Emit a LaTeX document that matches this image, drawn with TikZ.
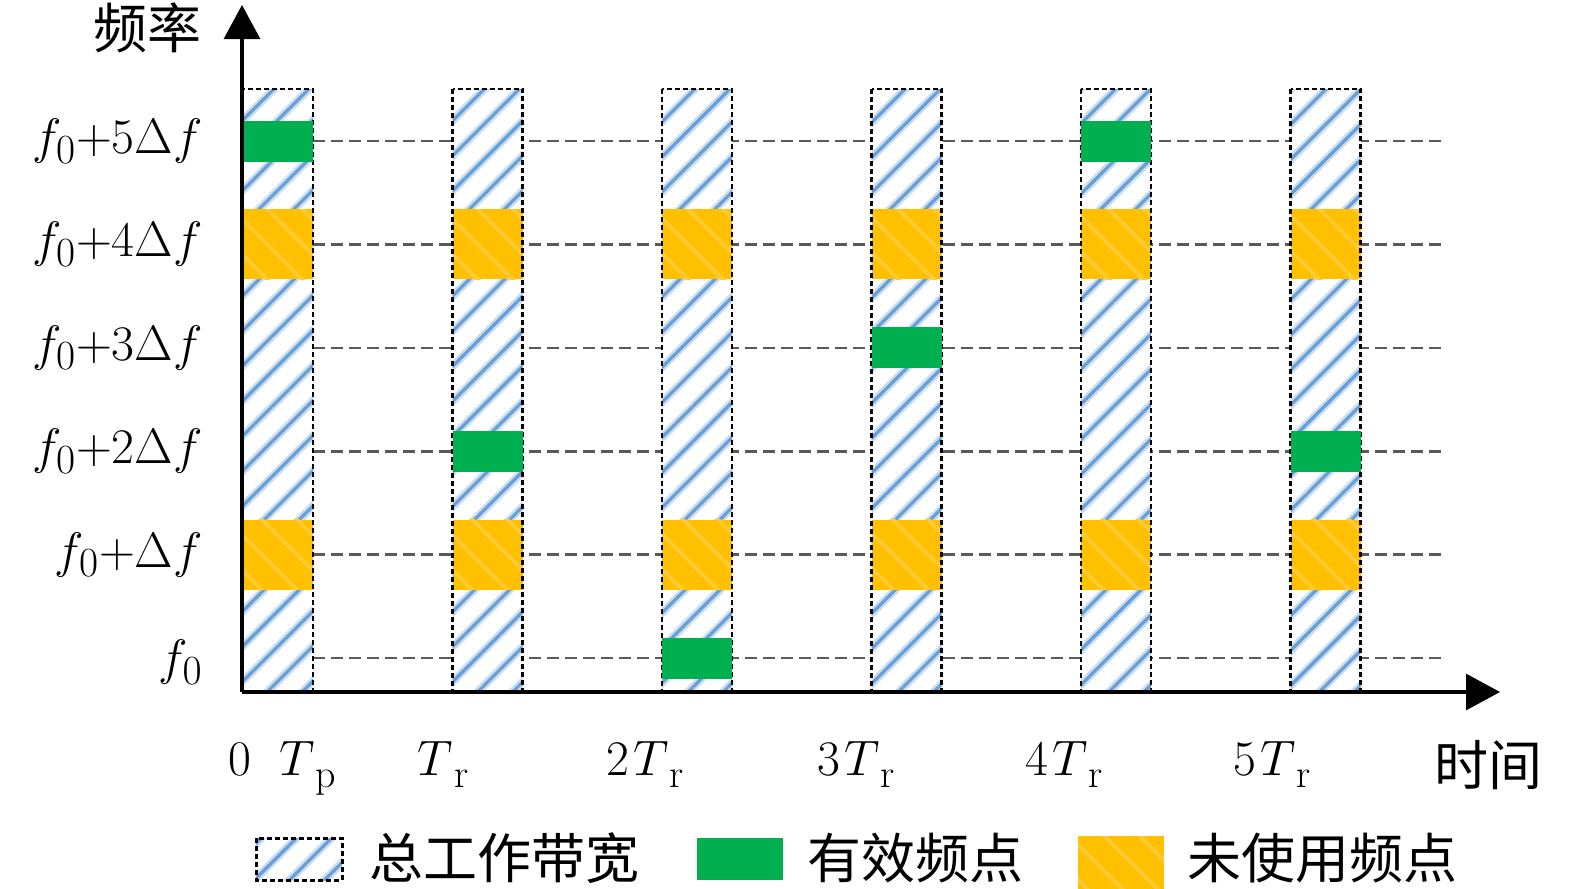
\documentclass[tikz,border=0pt]{standalone}
\usepackage{fontspec}
\newfontfamily\cjk{Noto Sans CJK SC}
\usetikzlibrary{patterns.meta,arrows.meta}
\definecolor{hatchlight}{HTML}{C9DEF2}
\definecolor{hatchdark}{HTML}{6A9FD6}
\definecolor{effgreen}{HTML}{00B050}
\definecolor{unused}{HTML}{FFC000}
\definecolor{unusedlight}{HTML}{FFCB33}
\definecolor{gridgray}{HTML}{5A5A5A}
\newcommand\Tsub[1]{$T$\kern0.5pt\raisebox{-6pt}{\fontsize{20}{22}\selectfont #1}}
\tikzset{
  hatchbg/.style={fill=white},
  hatchA/.style={pattern={Lines[angle=45,distance=12.4pt,line width=4pt]},pattern color=hatchlight},
  hatchB/.style={pattern={Lines[angle=45,distance=12.4pt,line width=1.6pt]},pattern color=hatchdark},
  hatchborder/.style={draw=black,line width=1.3pt,dash pattern=on 2.5pt off 1.5pt},
  greenbox/.style={fill=effgreen},
  orangebox/.style={fill=unused},
  orangehatch/.style={pattern={Lines[angle=-45,distance=12.4pt,line width=2pt]},pattern color=unusedlight},
  gridline/.style={draw=gridgray,line width=1.3pt,dash pattern=on 6pt off 3pt},
  axis/.style={draw=black,line width=1.6pt,-{Triangle[length=17pt,width=18pt]}},
  ylab/.style={anchor=east,inner sep=0pt,font=\fontsize{29}{32}\selectfont},
  xlab/.style={anchor=base,inner sep=0pt,font=\fontsize{29}{34}\selectfont},
  cjklab/.style={inner sep=0pt,font=\cjk\fontsize{27}{30}\selectfont},
}
\begin{document}
\begin{tikzpicture}[x=0.5pt,y=-0.5pt]
\useasboundingbox (0,0) rectangle (1575,889);
% grid lines
\foreach \k/\yy in {0/658,1/554.6,2/451.2,3/347.8,4/244.4,5/141}{
  \draw[gridline] (313,\yy) -- (1442,\yy);
}
% columns
\foreach \i in {0,...,5}{
  \pgfmathsetmacro{\xl}{243+209.5*\i}
  \pgfmathsetmacro{\xr}{\xl+70}
  \fill[hatchbg] (\xl,89) rectangle (\xr,692);
  \fill[hatchA] (\xl,89) rectangle (\xr,692);
  \fill[hatchB] (\xl,89) rectangle (\xr,692);
  % unused rows 1 and 4
  \foreach \yy in {554.6,244.4}{
    \fill[orangebox] (\xl,\yy-35) rectangle (\xr,\yy+35);
    \fill[orangehatch] (\xl,\yy-35) rectangle (\xr,\yy+35);
  }
  \draw[hatchborder] (\xl,89) rectangle (\xr,692);
}
% effective points
\foreach \i/\yy in {0/141,1/451.2,2/658,3/347.8,4/141,5/451.2}{
  \pgfmathsetmacro{\xl}{243+209.5*\i}
  \fill[greenbox] (\xl,\yy-20.5) rectangle (\xl+70,\yy+20.5);
}
% axes
\coordinate (O) at (242,692);
\coordinate (ytip) at (242,5);
\coordinate (xtip) at (1500,692);
\draw[axis] (O) -- (ytip);
\draw[axis] (O) -- (xtip);
% y labels
\node[ylab] (l5) at (203,141) {$f_0{+}5\Delta f$};
\node[ylab] (l4) at (203,244.4) {$f_0{+}4\Delta f$};
\node[ylab] (l3) at (203,347.8) {$f_0{+}3\Delta f$};
\node[ylab] (l2) at (203,451.2) {$f_0{+}2\Delta f$};
\node[ylab] (l1) at (203,554.6) {$f_0{+}\Delta f$};
\node[ylab] (l0) at (203,662) {$f_0$};
% x labels
\node[xlab] (t0) at (240,775) {$0$};
\node[xlab] (tp) at (308,775) {\Tsub{p}};
\node[xlab] (t1) at (443,775) {\Tsub{r}};
\node[xlab] (t2) at (645,775) {$2$\kern2pt\Tsub{r}};
\node[xlab] (t3) at (856,775) {$3$\kern2pt\Tsub{r}};
\node[xlab] (t4) at (1064,775) {$4$\kern2pt\Tsub{r}};
\node[xlab] (t5) at (1272,775) {$5$\kern2pt\Tsub{r}};
\node[cjklab] (xname) at (1488,765) {时间};
\node[cjklab] (yname) at (147,28) {频率};
% legend
\fill[hatchbg] (256,838) rectangle (342,880);
\fill[hatchA] (256,838) rectangle (342,880);
\fill[hatchB] (256,838) rectangle (342,880);
\draw[hatchborder,line width=1.5pt] (256,838) rectangle (342,880);
\node[cjklab,anchor=west] (lg1) at (369,858) {总工作带宽};
\fill[greenbox] (697,838) rectangle (783,880);
\node[cjklab,anchor=west] (lg2) at (807,858) {有效频点};
\fill[orangebox] (1078,836) rectangle (1164,889);
\fill[orangehatch] (1078,836) rectangle (1164,889);
\node[cjklab,anchor=west] (lg3) at (1187,858) {未使用频点};
\end{tikzpicture}
\end{document}
